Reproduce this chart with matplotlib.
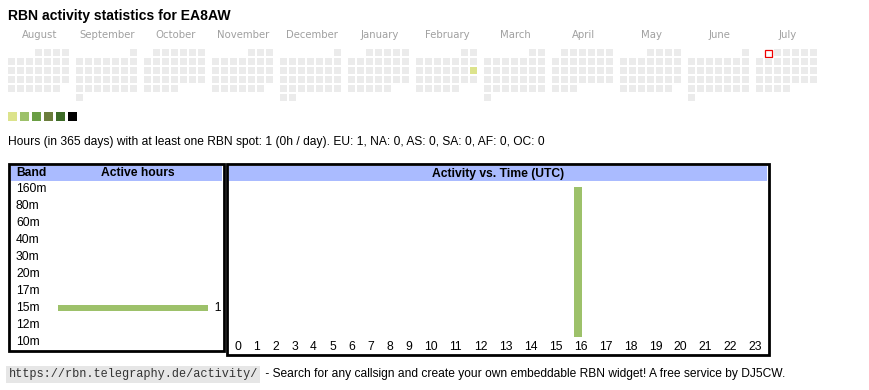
import datetime as dt
import matplotlib
matplotlib.use("Agg")
import matplotlib.pyplot as plt
import matplotlib.transforms as mtransforms
from matplotlib.patches import Rectangle

# ---------------- data ----------------
title = "RBN activity statistics for EA8AW"
months = ["August", "September", "October", "November", "December", "January",
          "February", "March", "April", "May", "June", "July"]
month_starts = [(2024, 8), (2024, 9), (2024, 10), (2024, 11), (2024, 12), (2025, 1),
                (2025, 2), (2025, 3), (2025, 4), (2025, 5), (2025, 6), (2025, 7)]
active_days = {dt.date(2025, 2, 16): 1}      # date -> activity level (1..6)
today = dt.date(2025, 7, 1)
level_colors = ["#dce38c", "#9dc16a", "#6a9e44", "#6b7d3c", "#3d6b27", "#000000"]
summary = ("Hours (in 365 days) with at least one RBN spot: 1 (0h / day). "
           "EU: 1, NA: 0, AS: 0, SA: 0, AF: 0, OC: 0")
bands = ["160m", "80m", "60m", "40m", "30m", "20m", "17m", "15m", "12m", "10m"]
band_hours = [0, 0, 0, 0, 0, 0, 0, 1, 0, 0]
hours = list(range(24))
hour_activity = [0] * 16 + [1] + [0] * 7
footer_url = "https://rbn.telegraphy.de/activity/"
footer_text = " - Search for any callsign and create your own embeddable RBN widget! A free service by DJ5CW."

# ---------------- figure ----------------
W, H = 870, 390
fig = plt.figure(figsize=(W / 100, H / 100), dpi=100)
fig.patch.set_facecolor("white")
plt.rcParams["font.family"] = ["Liberation Sans", "DejaVu Sans"]

def rect(x, y, w, h):
    return [x / W, 1 - (y + h) / H, w / W, h / H]

# overlay axes in pixel coordinates
ov = fig.add_axes([0, 0, 1, 1])
ov.set_xlim(0, W)
ov.set_ylim(H, 0)
ov.axis("off")

GRAY_SQ = "#ebebeb"
BLUE = "#aabbff"

ov.text(8, 16, title, fontsize=10.1, fontweight="bold", va="center", ha="left")

# calendar
for k, (name, (yy, mm)) in enumerate(zip(months, month_starts)):
    x0 = 8 + 68 * k
    ov.text(x0 + 31.5, 35.5, name, fontsize=7.3, color="#a0a0a0", ha="center", va="center",
            family=["DejaVu Sans"])
    first = dt.date(yy, mm, 1)
    nxt = dt.date(yy + (mm == 12), mm % 12 + 1, 1)
    ndays = (nxt - first).days
    fd = first.weekday()
    for d in range(ndays):
        day = first + dt.timedelta(days=d)
        row = (d + fd) // 7
        col = day.weekday()
        lvl = active_days.get(day, 0)
        fc = level_colors[lvl - 1] if lvl else GRAY_SQ
        sx, sy = x0 + 9 * col, 49 + 9 * row
        if day == today:
            ov.add_patch(Rectangle((sx + 0.5, sy + 0.5), 7, 7, facecolor="white",
                                   edgecolor="#ee0000", lw=0.9))
        else:
            ov.add_patch(Rectangle((sx, sy), 7, 7, facecolor=fc, edgecolor="none",
                                   antialiased=False))

# legend squares
for i, c in enumerate(level_colors):
    ov.add_patch(Rectangle((8 + 12 * i, 112), 9, 9, facecolor=c, edgecolor="none",
                           antialiased=False))

ov.text(8, 142.5, summary, fontsize=8.65, ha="left", va="center")

# boxes
ov.add_patch(Rectangle((11, 166), 211, 15, facecolor=BLUE, edgecolor="none"))
ov.add_patch(Rectangle((229, 166), 538, 15, facecolor=BLUE, edgecolor="none"))
ov.add_patch(Rectangle((9.3, 164.3), 214.4, 186.4, facecolor="none", edgecolor="black", lw=2))
ov.add_patch(Rectangle((227.3, 164.3), 541.4, 190.4, facecolor="none", edgecolor="black", lw=2))
ov.text(16, 173.5, "Band", fontsize=8.7, fontweight="bold", ha="left", va="center")
ov.text(138, 173.5, "Active hours", fontsize=8.7, fontweight="bold", ha="center", va="center")
ov.text(498, 173.5, "Activity vs. Time (UTC)", fontsize=8.7, fontweight="bold",
        ha="center", va="center")

# band chart
axb = fig.add_axes(rect(58, 180.8, 150, 170))
axb.barh(range(len(bands)), band_hours, height=0.36, color=level_colors[1])
axb.set_xlim(0, max(band_hours))
axb.set_ylim(len(bands) - 0.5, -0.5)
axb.axis("off")
pxtr = ov.transData
btr = mtransforms.blended_transform_factory(pxtr, axb.transData)
for i, (b, v) in enumerate(zip(bands, band_hours)):
    ov.text(16, i, b, transform=btr, fontsize=8.7, ha="left", va="center")
    if v:
        axb.text(v, i, "  " + str(v), fontsize=8.7, ha="left", va="center", clip_on=False)

# time chart: column widths follow label widths (html table)
widths = [19 if h < 10 else 25 for h in hours]
centers = []
pos = 228
for w in widths:
    centers.append(pos + w / 2)
    pos += w
axt = fig.add_axes(rect(228, 181, 540, 156))
axt.bar([c - 2.5 for c in centers], hour_activity, width=8, color=level_colors[1])
axt.set_xlim(228, 768)
axt.set_ylim(0, 156 / 150)
axt.axis("off")
for c, h in zip(centers, hours):
    ov.text(c, 346.5, str(h), fontsize=8.7, ha="center", va="center")

# footer
ov.text(8.5, 374.5, footer_url, fontsize=8.6, family=["Liberation Mono", "DejaVu Sans Mono"],
        color="#333333", ha="left", va="center",
        bbox=dict(facecolor="#e6e6e6", edgecolor="none", pad=1.5))
ov.text(262, 374.5, footer_text, fontsize=8.65,
        family=["Liberation Sans Narrow", "Liberation Sans"], ha="left", va="center")

fig.savefig("out.png", dpi=100, facecolor="white")
